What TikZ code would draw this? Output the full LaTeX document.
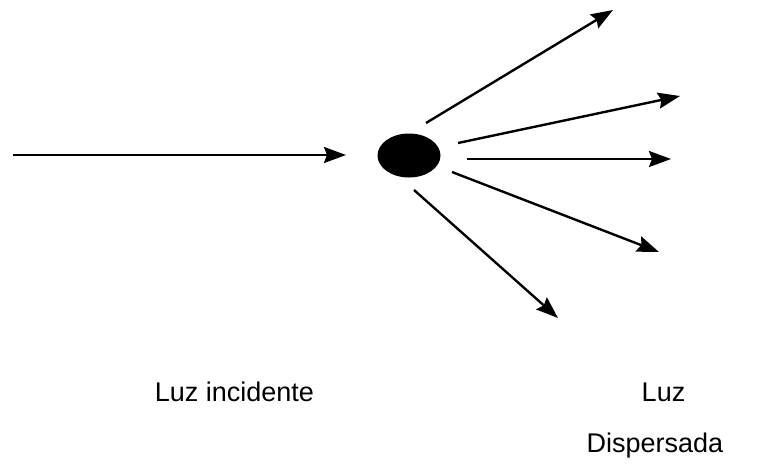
\documentclass[tikz,border=0pt]{standalone}
\usepackage{fontspec}
\setmainfont{Liberation Sans}
\usetikzlibrary{arrows.meta,shapes.geometric}
\begin{document}
\begin{tikzpicture}[x=1pt,y=-1pt,
  ray/.style={line width=2.4pt,-{Stealth[length=22pt,width=16pt,inset=3pt]}},
  caption/.style={font=\fontsize{27}{32}\selectfont,inner sep=0pt,anchor=base}]
\useasboundingbox[fill=white] (0,0) rectangle (758,464);
% scattering particle
\node (p) [ellipse,fill=black,minimum width=63pt,minimum height=44pt,inner sep=0pt] at (409,155.5) {};
% incident beam
\coordinate (src) at (13,155);
\coordinate (hit) at (346,155);
\draw[ray] (src) -- (hit);
% scattered rays
\coordinate (s1a) at (426,123); \coordinate (s1b) at (613,10);
\coordinate (s2a) at (458,143); \coordinate (s2b) at (680,96);
\coordinate (s3a) at (467,159); \coordinate (s3b) at (671,159);
\coordinate (s4a) at (452,172); \coordinate (s4b) at (659,252);
\coordinate (s5a) at (414,190); \coordinate (s5b) at (558,318);
\draw[ray] (s1a) -- (s1b);
\draw[ray] (s2a) -- (s2b);
\draw[ray] (s3a) -- (s3b);
\draw[ray] (s4a) -- (s4b);
\draw[ray] (s5a) -- (s5b);
% captions
\node (inc) [caption] at (234.5,401) {Luz incidente};
\node (luz) [caption] at (663.5,401) {Luz};
\node (disp) [caption] at (655,452) {Dispersada};
\end{tikzpicture}
\end{document}
